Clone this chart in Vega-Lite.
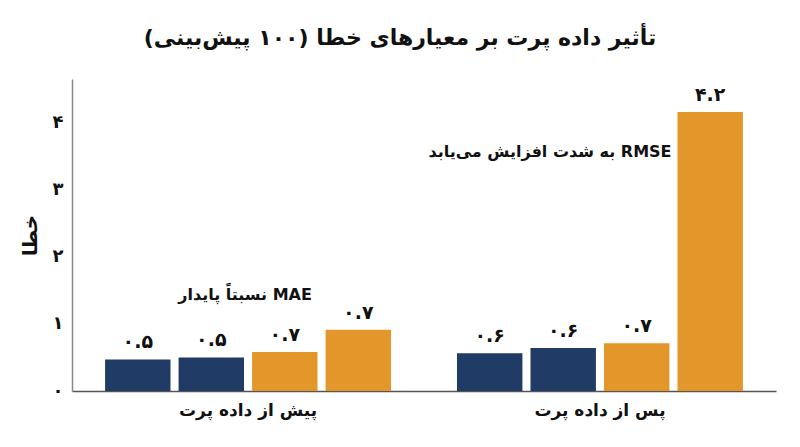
{
  "$schema": "https://vega.github.io/schema/vega-lite/v6.json",
  "autosize": {"type": "none"},
  "width": 704,
  "height": 312,
  "padding": {"left": 72, "top": 79, "right": 24, "bottom": 56},
  "background": "white",
  "title": {
    "text": "\u202bتأثیر داده پرت بر معیارهای خطا (۱۰۰ پیش‌بینی)\u202c",
    "font": "DejaVu Sans",
    "fontSize": 22,
    "fontWeight": "bold",
    "color": "#111111",
    "anchor": "middle",
    "dx": -24,
    "offset": 29
  },
  "config": {
    "view": {"stroke": null},
    "font": "DejaVu Sans"
  },
  "data": {
    "values": [
      {"phase": "پیش از داده پرت", "metric": "m1", "kind": "MAE", "value": 0.47, "label": "۰.۵"},
      {"phase": "پیش از داده پرت", "metric": "m2", "kind": "MAE", "value": 0.5, "label": "۰.۵"},
      {"phase": "پیش از داده پرت", "metric": "m3", "kind": "RMSE", "value": 0.58, "label": "۰.۷"},
      {"phase": "پیش از داده پرت", "metric": "m4", "kind": "RMSE", "value": 0.91, "label": "۰.۷"},
      {"phase": "پس از داده پرت", "metric": "m1", "kind": "MAE", "value": 0.56, "label": "۰.۶"},
      {"phase": "پس از داده پرت", "metric": "m2", "kind": "MAE", "value": 0.64, "label": "۰.۶"},
      {"phase": "پس از داده پرت", "metric": "m3", "kind": "RMSE", "value": 0.71, "label": "۰.۷"},
      {"phase": "پس از داده پرت", "metric": "m4", "kind": "RMSE", "value": 4.15, "label": "۴.۲"}
    ]
  },
  "encoding": {
    "x": {
      "field": "phase",
      "type": "nominal",
      "sort": ["پیش از داده پرت", "پس از داده پرت"],
      "scale": {"paddingInner": 0.1875, "paddingOuter": 0.094},
      "axis": {
        "title": null,
        "labelAngle": 0,
        "labelExpr": "'\u202b' + datum.label + '\u202c'",
        "labelFontSize": 17,
        "labelFontWeight": "bold",
        "labelColor": "#111111",
        "labelPadding": 11,
        "ticks": false,
        "domainColor": "#555555",
        "domainWidth": 1.5
      }
    },
    "xOffset": {
      "field": "metric",
      "type": "nominal",
      "scale": {"paddingInner": 0.11, "paddingOuter": 0}
    },
    "y": {
      "field": "value",
      "type": "quantitative",
      "scale": {"domain": [0, 4.64], "nice": false},
      "axis": {
        "title": "خطا",
        "titleFontSize": 20,
        "titleFontWeight": "bold",
        "titleColor": "#111111",
        "titlePadding": 12,
        "values": [0, 1, 2, 3, 4],
        "labelExpr": "['۰','۱','۲','۳','۴'][datum.value]",
        "labelFontSize": 18,
        "labelFontWeight": "bold",
        "labelColor": "#111111",
        "labelPadding": 9,
        "ticks": false,
        "grid": false,
        "domainColor": "#888888",
        "domainWidth": 1.5
      }
    }
  },
  "layer": [
    {
      "mark": {"type": "bar"},
      "encoding": {
        "color": {
          "field": "kind",
          "type": "nominal",
          "scale": {"domain": ["MAE", "RMSE"], "range": ["#1f3b66", "#e3962a"]},
          "legend": null
        }
      }
    },
    {
      "mark": {"type": "text", "baseline": "bottom", "dy": -7, "fontSize": 19, "fontWeight": "bold", "color": "#111111"},
      "encoding": {
        "text": {"field": "label"}
      }
    },
    {
      "data": {
        "values": [
          {"phase": "پیش از داده پرت", "value": 1.43, "note": "\u202bMAE نسبتاً پایدار\u202c"}
        ]
      },
      "mark": {"type": "text", "dx": -3, "fontSize": 16, "fontWeight": "bold", "color": "#111111"},
      "encoding": {
        "xOffset": null,
        "text": {"field": "note"}
      }
    },
    {
      "data": {
        "values": [
          {"phase": "پس از داده پرت", "value": 3.55, "note": "\u202bRMSE به شدت افزایش می‌یابد\u202c"}
        ]
      },
      "mark": {"type": "text", "dx": -50, "fontSize": 16, "fontWeight": "bold", "color": "#111111"},
      "encoding": {
        "xOffset": null,
        "text": {"field": "note"}
      }
    }
  ]
}
